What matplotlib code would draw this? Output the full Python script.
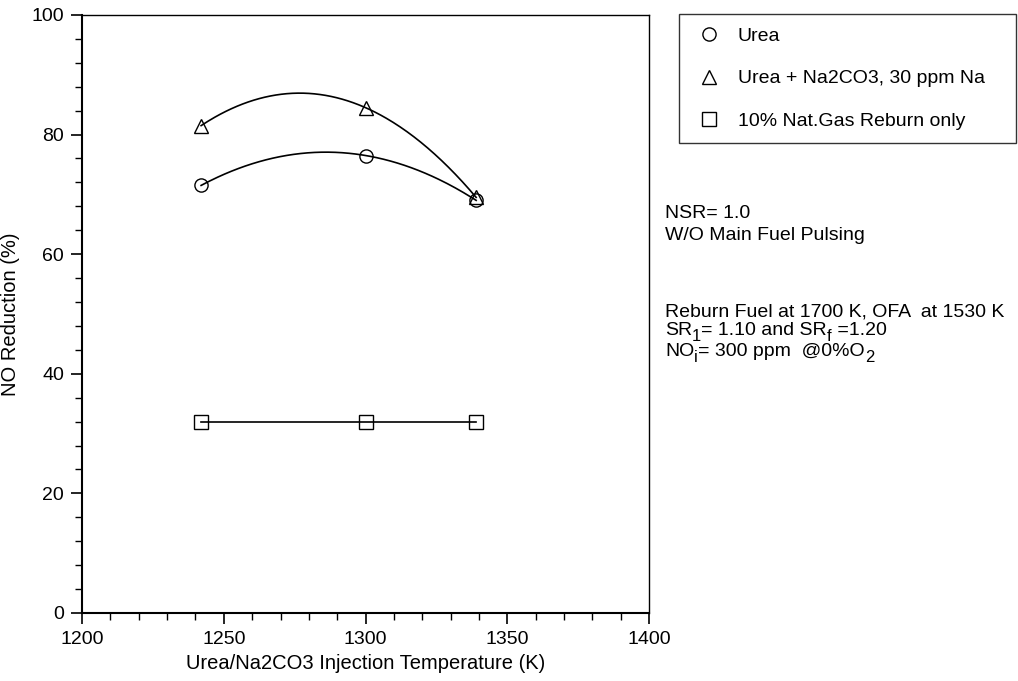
import numpy as np
import matplotlib
matplotlib.use("Agg")
import matplotlib.pyplot as plt
from matplotlib.lines import Line2D
from matplotlib.ticker import MultipleLocator

plt.rcParams['font.family'] = ['Liberation Sans', 'DejaVu Sans']

# Injection temperatures (K)
temperature = [1242, 1300, 1339]
# NO reduction (%)
urea = [71.5, 76.5, 69.0]
urea_na2co3 = [81.5, 84.5, 69.5]
reburn_only = [32.0, 32.0, 32.0]

series_labels = ["Urea", "Urea + Na2CO3, 30 ppm Na", "10% Nat.Gas Reburn only"]
x_ticks = [1200, 1250, 1300, 1350, 1400]
y_ticks = [0, 20, 40, 60, 80, 100]

W, H = 1018, 681
fig = plt.figure(figsize=(W / 100, H / 100), dpi=100)
ax = fig.add_axes([0.0806, 0.0999, 0.557, 0.8781])

mk = dict(markersize=9.5, markerfacecolor='none', markeredgecolor='black',
          markeredgewidth=1.0, linestyle='none')

# Second-order fits through the urea series
t = np.array(temperature, dtype=float)
tt = np.linspace(t.min(), t.max(), 200)
for vals in (urea, urea_na2co3):
    coef = np.polyfit(t, vals, 2)
    ax.plot(tt, np.polyval(coef, tt), color='black', lw=1.2)
ax.plot(temperature, reburn_only, color='black', lw=1.2)

ax.plot(temperature, urea, marker='o', **mk)
ax.plot(temperature, urea_na2co3, marker='^', **mk)
ax.plot(temperature, reburn_only, marker='s', **mk)

ax.set_xlim(1200, 1400)
ax.set_ylim(0, 100)
ax.set_xticks(x_ticks)
ax.set_yticks(y_ticks)
ax.xaxis.set_minor_locator(MultipleLocator(10))
ax.yaxis.set_minor_locator(MultipleLocator(4))
ax.tick_params(which='major', direction='out', length=8, width=1.2, labelsize=14, pad=5)
ax.tick_params(which='minor', direction='out', length=5, width=1.0)
for s in ax.spines.values():
    s.set_linewidth(1.0)
ax.spines['left'].set_linewidth(1.5)
ax.spines['bottom'].set_linewidth(1.5)
ax.set_xlabel("Urea/Na2CO3 Injection Temperature (K)", fontsize=14.5, labelpad=4)
ax.set_ylabel("NO Reduction (%)", fontsize=14.5, labelpad=8)

handles = [
    Line2D([], [], marker='o', **mk),
    Line2D([], [], marker='^', **mk),
    Line2D([], [], marker='s', **mk),
]
leg = fig.legend(handles, series_labels, loc='upper left',
                 bbox_to_anchor=(679 / W, 1 - 14 / H, (1016 - 679) / W, 0),
                 mode='expand', frameon=True, fancybox=False, fontsize=14,
                 labelspacing=1.28, handlelength=1.7, handletextpad=0.65,
                 borderpad=0.68, borderaxespad=0)
leg.get_frame().set_edgecolor('black')
leg.get_frame().set_linewidth(1.0)

# Condition notes; subscripts drawn as lowered, slightly smaller pieces
renderer = fig.canvas.get_renderer()
fs = 14


def note(x_px, y_px, pieces):
    x = x_px
    for txt, sub in pieces:
        size = fs - 2 if sub else fs
        y = y_px + (6 if sub else 0)
        tx = fig.text(x / W, 1 - y / H, txt, fontsize=size, va='baseline', ha='left')
        x += tx.get_window_extent(renderer).width


note(665, 218, [("NSR= 1.0", False)])
note(665, 240, [("W/O Main Fuel Pulsing", False)])
note(665, 316, [("Reburn Fuel at 1700 K, OFA  at 1530 K", False)])
note(665, 335, [("SR", False), ("1", True), ("= 1.10 and SR", False), ("f", True), (" =1.20", False)])
note(665, 356, [("NO", False), ("i", True), ("= 300 ppm  @0%O", False), ("2", True)])

fig.savefig("out.png", dpi=100)
